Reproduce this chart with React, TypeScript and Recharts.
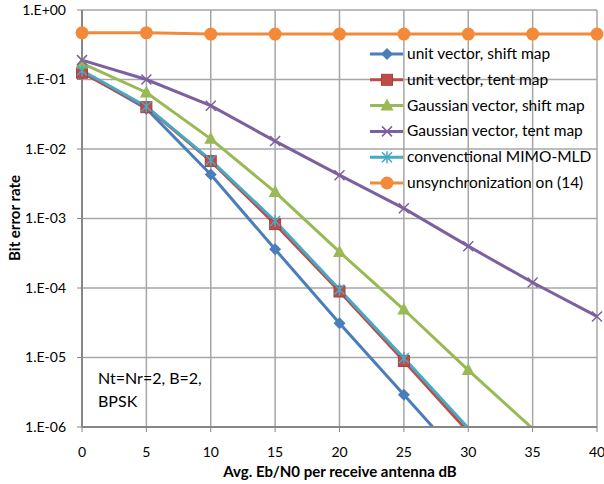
import { LineChart, Line, XAxis, YAxis, CartesianGrid, Legend, Customized } from "recharts";

const snr = [0, 5, 10, 15, 20, 25, 30, 35, 40];
const unitShift = [0.13, 0.038, 4.3e-3, 3.6e-4, 3.1e-5, 2.9e-6, 2.7e-7, null, null];
const unitTent = [0.125, 0.04, 6.7e-3, 8.3e-4, 8.9e-5, 8.9e-6, 8.5e-7, null, null];
const gaussShift = [0.17, 0.065, 1.4e-2, 2.4e-3, 3.3e-4, 4.9e-5, 6.6e-6, 9.5e-7, null];
const gaussTent = [0.19, 0.1, 0.042, 1.3e-2, 4.2e-3, 1.4e-3, 4.0e-4, 1.2e-4, 3.9e-5];
const mimoMld = [0.135, 0.041, 6.9e-3, 9.2e-4, 9.5e-5, 9.8e-6, 9.7e-7, null, null];
const unsync = [0.47, 0.47, 0.45, 0.45, 0.45, 0.45, 0.45, 0.45, 0.45];

const yTicks = [1e-6, 1e-5, 1e-4, 1e-3, 1e-2, 1e-1, 1];
const yTickLabels = ["1.E-06", "1.E-05", "1.E-04", "1.E-03", "1.E-02", "1.E-01", "1.E+00"];

const FONT = "Lato, Carlito, Calibri, sans-serif";
const FLOOR = 1e-6;

type MarkerType = "diamond" | "square" | "triangle" | "x" | "star" | "circle";

const series: { key: string; name: string; values: (number | null)[]; color: string; marker: MarkerType }[] = [
  { key: "unitShift", name: "unit vector, shift map", values: unitShift, color: "#4A7EBB", marker: "diamond" },
  { key: "unitTent", name: "unit vector, tent map", values: unitTent, color: "#BE4B48", marker: "square" },
  { key: "gaussShift", name: "Gaussian vector, shift map", values: gaussShift, color: "#98B954", marker: "triangle" },
  { key: "gaussTent", name: "Gaussian vector, tent map", values: gaussTent, color: "#7D60A0", marker: "x" },
  { key: "mimoMld", name: "convenctional MIMO-MLD", values: mimoMld, color: "#46AAC5", marker: "star" },
  { key: "unsync", name: "unsynchronization on (14)", values: unsync, color: "#F38A3A", marker: "circle" },
];

const data = snr.map((x, i) => {
  const row: Record<string, number | null> = { x };
  series.forEach((s) => {
    const v = s.values[i];
    row[s.key] = v;
    // markers below the axis floor are not drawn
    row[s.key + "Dot"] = v != null && v >= FLOOR ? v : null;
  });
  return row;
});

function Marker({ type, cx, cy, color }: { type: MarkerType; cx: number; cy: number; color: string }) {
  switch (type) {
    case "diamond":
      return <path d={`M${cx},${cy - 6}L${cx + 6},${cy}L${cx},${cy + 6}L${cx - 6},${cy}Z`} fill={color} />;
    case "square":
      return <rect x={cx - 5.5} y={cy - 5.5} width={11} height={11} fill={color} stroke="#A5403D" strokeWidth={1} />;
    case "triangle":
      return <path d={`M${cx},${cy - 7}L${cx + 6.5},${cy + 5}L${cx - 6.5},${cy + 5}Z`} fill={color} />;
    case "x":
      return (
        <path d={`M${cx - 5},${cy - 5}L${cx + 5},${cy + 5}M${cx - 5},${cy + 5}L${cx + 5},${cy - 5}`} stroke={color} strokeWidth={1.5} fill="none" />
      );
    case "star":
      return (
        <path
          d={`M${cx - 5},${cy - 5}L${cx + 5},${cy + 5}M${cx - 5},${cy + 5}L${cx + 5},${cy - 5}M${cx},${cy - 6}L${cx},${cy + 6}`}
          stroke={color}
          strokeWidth={1.5}
          fill="none"
        />
      );
    default:
      return <circle cx={cx} cy={cy} r={6.5} fill={color} />;
  }
}

function LegendBox() {
  return (
    <svg width={240} height={160} style={{ display: "block" }}>
      {series.map((s, i) => {
        const y = 14 + i * 25.8;
        return (
          <g key={s.key}>
            <line x1={5} x2={38} y1={y} y2={y} stroke={s.color} strokeWidth={3} />
            <Marker type={s.marker} cx={22} cy={y} color={s.color} />
            <text x={42} y={y + 5} fontSize={15.5} fontFamily={FONT} fill="#000">
              {s.name}
            </text>
          </g>
        );
      })}
    </svg>
  );
}

export default function App() {
  return (
    <div style={{ position: "absolute", left: 0, top: 0, background: "#fff" }}>
      <LineChart width={604} height={484} data={data} margin={{ top: 10, right: 7, left: 0, bottom: 27 }}>
        <CartesianGrid yAxisId="l" stroke="#A6A6A6" strokeWidth={1.5} />
        <XAxis
          dataKey="x"
          type="number"
          domain={[0, 40]}
          ticks={snr}
          tickSize={5}
          tickMargin={15}
          height={30}
          tick={{ fontSize: 14, fill: "#000", fontFamily: FONT }}
          axisLine={{ stroke: "#868686", strokeWidth: 2 }}
          tickLine={{ stroke: "#868686" }}
        />
        <YAxis
          yAxisId="l"
          type="number"
          scale="log"
          domain={[1e-6, 1]}
          allowDataOverflow
          ticks={yTicks}
          tickFormatter={(v: number) => yTickLabels[yTicks.indexOf(v)] ?? ""}
          width={82}
          tickSize={5}
          tickMargin={11}
          tick={{ fontSize: 14, fill: "#000", fontFamily: FONT }}
          axisLine={{ stroke: "#868686", strokeWidth: 2 }}
          tickLine={{ stroke: "#868686" }}
        />
        <YAxis yAxisId="m" type="number" scale="log" domain={[1e-6, 1]} hide />
        {series.map((s) => (
          <Line
            key={s.key}
            yAxisId="l"
            dataKey={s.key}
            name={s.name}
            stroke={s.color}
            strokeWidth={3}
            dot={false}
            activeDot={false}
            isAnimationActive={false}
          />
        ))}
        {series.map((s) => (
          <Line
            key={s.key + "Dot"}
            yAxisId="m"
            dataKey={s.key + "Dot"}
            stroke="none"
            legendType="none"
            activeDot={false}
            isAnimationActive={false}
            dot={(p: any) =>
              p.cx == null || p.cy == null || p.value == null ? (
                <g key={p.index} />
              ) : (
                <Marker key={p.index} type={s.marker} cx={p.cx} cy={p.cy} color={s.color} />
              )
            }
          />
        ))}
        <Legend
          layout="vertical"
          align="center"
          verticalAlign="middle"
          content={() => <LegendBox />}
          wrapperStyle={{ position: "absolute", left: 365, top: 40, width: 240, height: 160 }}
        />
        <Customized
          component={() => (
            <g fontFamily={FONT}>
              <text x={98} y={384} fontSize={16} fill="#000">
                Nt=Nr=2, B=2,
              </text>
              <text x={98} y={407} fontSize={16} fill="#000">
                BPSK
              </text>
              <text x={340} y={477} fontSize={15} fontWeight="bold" textAnchor="middle" fill="#000">
                Avg. Eb/N0 per receive antenna dB
              </text>
              <text
                x={20}
                y={218}
                fontSize={15}
                fontWeight="bold"
                textAnchor="middle"
                fill="#000"
                transform="rotate(-90 20 218)"
              >
                Bit error rate
              </text>
            </g>
          )}
        />
      </LineChart>
    </div>
  );
}
